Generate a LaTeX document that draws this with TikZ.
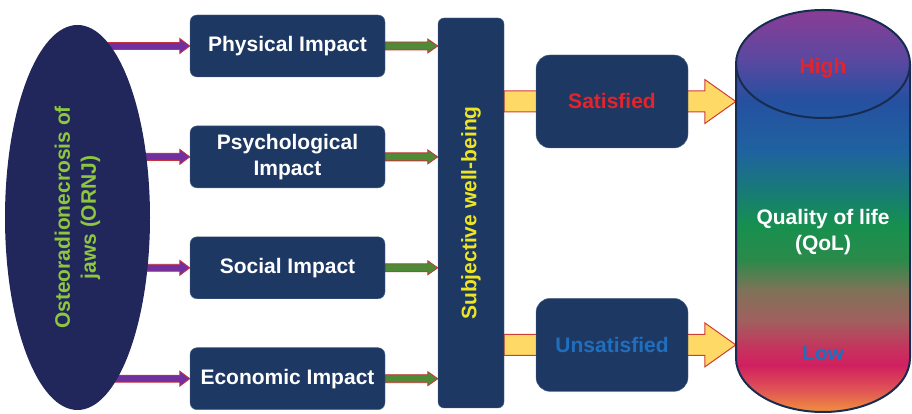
\documentclass[tikz,border=0pt]{standalone}
\usepackage{fontspec}
\setmainfont{Liberation Sans}
\usetikzlibrary{shapes.geometric,positioning,calc,backgrounds}

\definecolor{boxblue}{HTML}{1E3864}
\definecolor{rimblue}{HTML}{182C52}
\definecolor{ovalblue}{HTML}{22275B}
\definecolor{ornjgreen}{HTML}{8DC63F}
\definecolor{swbyellow}{HTML}{EDE524}
\definecolor{arrowred}{HTML}{C8323A}
\definecolor{arrowpurple}{HTML}{7030A0}
\definecolor{arrowgreen}{HTML}{4F8A36}
\definecolor{paleyellow}{HTML}{FFD966}
\definecolor{satred}{HTML}{E3242B}
\definecolor{unsatblue}{HTML}{1F6FBE}

% colour bands of the QoL column, bottom to top
\definecolor{q1}{HTML}{F0913D}
\definecolor{q2}{HTML}{E05555}
\definecolor{q3}{HTML}{D02060}
\definecolor{q4}{HTML}{C8305E}
\definecolor{q5}{HTML}{A0605E}
\definecolor{q6}{HTML}{7E7358}
\definecolor{q7}{HTML}{2B8A4A}
\definecolor{q8}{HTML}{16904F}
\definecolor{q9}{HTML}{187A78}
\definecolor{q10}{HTML}{1F62A0}
\definecolor{q11}{HTML}{2550A0}
\definecolor{q12}{HTML}{5A48A0}
\definecolor{q13}{HTML}{8A3D95}
\pgfdeclareverticalshading{qolshade}{100bp}{color(0bp)=(q1); color(25bp)=(q1);
  color(27.7bp)=(q2); color(30.8bp)=(q3); color(32.7bp)=(q4); color(36.4bp)=(q5);
  color(40.2bp)=(q6); color(43.9bp)=(q7); color(48.3bp)=(q8); color(52.6bp)=(q9);
  color(57.6bp)=(q10); color(63.8bp)=(q11); color(68.8bp)=(q12); color(75bp)=(q13);
  color(100bp)=(q13)}

% block arrow: style, start, end, half shaft, half head, head length
\newcommand\fatarrow[6]{%
  \draw[#1] let \p1=#2, \p2=#3 in
    (\x1,\y1+#4) -- (\x2-#6,\y1+#4) -- (\x2-#6,\y1+#5) -- (\x2,\y1)
    -- (\x2-#6,\y1-#5) -- (\x2-#6,\y1-#4) -- (\x1,\y1-#4) -- cycle;}

\begin{document}
\begin{tikzpicture}[x=1pt, y=1pt]
    \tikzset{
        bigfont/.style={font=\fontsize{21}{26}\selectfont\bfseries},
        impact/.style={bigfont, draw=boxblue!75!white, line width=0.4pt, fill=boxblue, rectangle, rounded corners=7pt, minimum width=195pt, minimum height=62pt, inner sep=2pt, align=center, text=white},
        outcome/.style={impact, rounded corners=14pt, minimum width=152pt, minimum height=93pt},
        hub/.style={impact, rounded corners=6pt, minimum width=66pt, minimum height=390pt, text=swbyellow},
        oval/.style={bigfont, ellipse, fill=ovalblue, rotate=90, minimum width=385pt, minimum height=145pt, inner sep=0pt, align=center, text=ornjgreen},
        qollabel/.style={bigfont, align=center},
        rim/.style={draw=rimblue, line width=2pt},
        purpleline/.style={draw=arrowred, fill=arrowpurple, line width=0.8pt},
        greenline/.style={draw=arrowred, fill=arrowgreen, line width=0.8pt},
        yellowline/.style={draw=arrowred!85!orange, fill=paleyellow, line width=1pt}
    }
    \useasboundingbox (0,0) rectangle (912,414);

    \node [oval] (ornj) at (77.5,196.5) {Osteoradionecrosis of\\jaws (ORNJ)};

    \node [impact] (phys) at (287.5,368) {Physical Impact};
    \node [impact, below=48.5pt of phys] (psych) {Psychological\\Impact};
    \node [impact, below=48.5pt of psych] (social) {Social Impact};
    \node [impact, below=48.5pt of social] (econ) {Economic Impact};

    \node [hub] (swb) at (471,201) {\rotatebox{90}{Subjective well-being}};

    \node [outcome, text=satred] (sat) at (612,312.5) {Satisfied};
    \node [outcome, text=unsatblue, below=150pt of sat] (unsat) {Unsatisfied};

    % quality of life column
    \node [inner sep=0pt, minimum width=174pt, minimum height=402pt] (qol) at (823,203) {};
    \coordinate (lidleft) at (736,350);
    \coordinate (lidright) at (910,350);
    \coordinate (baseleft) at (736,56);
    \shadedraw [shading=qolshade, rim]
        (lidleft) -- (baseleft)
        arc[start angle=180, end angle=360, x radius=87pt, y radius=54pt]
        -- (lidright)
        arc[start angle=0, end angle=180, x radius=87pt, y radius=54pt] -- cycle;
    \path [rim] (lidleft) arc[start angle=180, end angle=360, x radius=87pt, y radius=54pt];
    \node [qollabel, text=satred] (high) at ($(qol.north)+(0,-58pt)$) {High};
    \node [qollabel, text=white] (qoltext) at ($(qol.center)+(0,-21pt)$) {Quality of life\\(QoL)};
    \node [qollabel, text=unsatblue] (low) at ($(qol.south)+(0,59pt)$) {Low};

    \begin{pgfonlayer}{background}
        \foreach \b in {phys,psych,social,econ} {
            \fatarrow{purpleline}{(ornj.center |- \b.west)}{(\b.west)}{3.5pt}{7.5pt}{10pt}
            \fatarrow{greenline}{(\b.east)}{(\b.east -| swb.west)}{4pt}{7pt}{10pt}
        }
        \fatarrow{yellowline}{(swb.east |- sat)}{(qol.west |- sat)}{10.5pt}{22pt}{31pt}
        \fatarrow{yellowline}{(swb.east |- unsat)}{(qol.west |- unsat)}{10.5pt}{22pt}{31pt}
    \end{pgfonlayer}
\end{tikzpicture}
\end{document}
